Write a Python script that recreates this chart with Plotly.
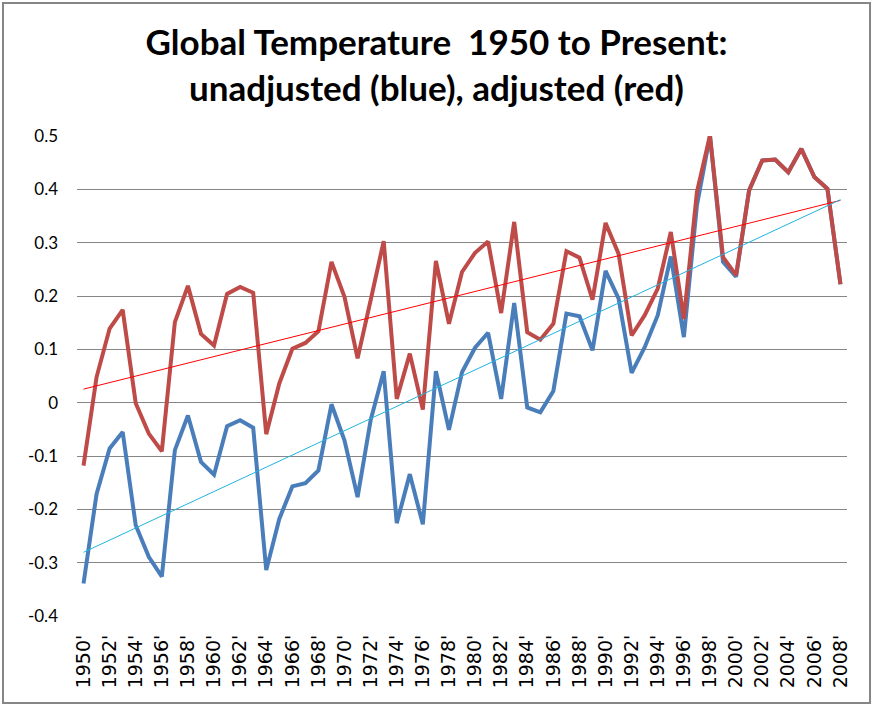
import numpy as np
import plotly.graph_objects as go

# years as category labels (Excel style with trailing apostrophe)
years = list(range(1950, 2009))
year_labels = [f"{y}'" for y in years]

# adjusted series (red)
adjusted = [
    -0.118, 0.048, 0.139, 0.174, -0.001, -0.058, -0.091, 0.151, 0.219, 0.129,
    0.107, 0.204, 0.217, 0.206, -0.059, 0.036, 0.101, 0.112, 0.134, 0.264,
    0.198, 0.083, 0.192, 0.303, 0.007, 0.092, -0.013, 0.266, 0.148, 0.245,
    0.281, 0.302, 0.168, 0.339, 0.132, 0.118, 0.148, 0.284, 0.272, 0.193,
    0.337, 0.279, 0.126, 0.164, 0.214, 0.320, 0.157, 0.395, 0.501, 0.273,
    0.239, 0.398, 0.454, 0.456, 0.432, 0.476, 0.423, 0.401, 0.222,
]

# unadjusted series (blue)
unadjusted = [
    -0.339, -0.171, -0.086, -0.055, -0.230, -0.289, -0.326, -0.089, -0.024, -0.111,
    -0.135, -0.044, -0.033, -0.047, -0.314, -0.218, -0.157, -0.151, -0.127, -0.003,
    -0.071, -0.177, -0.033, 0.059, -0.226, -0.134, -0.228, 0.059, -0.051, 0.057,
    0.103, 0.131, 0.007, 0.187, -0.009, -0.018, 0.022, 0.167, 0.162, 0.098,
    0.247, 0.195, 0.056, 0.104, 0.164, 0.274, 0.123, 0.370, 0.500, 0.264,
    0.236, 0.398, 0.454, 0.456, 0.432, 0.476, 0.423, 0.401, 0.222,
]

y_ticks = [-0.4, -0.3, -0.2, -0.1, 0, 0.1, 0.2, 0.3, 0.4, 0.5]
y_tick_text = ["-0.4", "-0.3", "-0.2", "-0.1", "0", "0.1", "0.2", "0.3", "0.4", "0.5"]

# linear trend lines, like Excel's trendline
idx = np.arange(len(years))
red_fit = np.polyval(np.polyfit(idx, adjusted, 1), idx)
blue_fit = np.polyval(np.polyfit(idx, unadjusted, 1), idx)

fig = go.Figure()

fig.add_trace(go.Scatter(x=year_labels, y=unadjusted, mode='lines',
                         line=dict(color='#4A7EBB', width=4), name='unadjusted'))
fig.add_trace(go.Scatter(x=year_labels, y=adjusted, mode='lines',
                         line=dict(color='#BE4B48', width=4), name='adjusted'))
fig.add_trace(go.Scatter(x=year_labels, y=red_fit, mode='lines',
                         line=dict(color='#FF0000', width=1), name='adjusted trend'))
fig.add_trace(go.Scatter(x=year_labels, y=blue_fit, mode='lines',
                         line=dict(color='#1FB4E0', width=1), name='unadjusted trend'))

fig.update_layout(
    width=873, height=708,
    margin=dict(l=77, r=26, t=136, b=92),
    paper_bgcolor='white', plot_bgcolor='white',
    showlegend=False,
    title=dict(
        text='Global Temperature  1950 to Present:<br>unadjusted (blue), adjusted (red)',
        x=0.5, xref='container', xanchor='center',
        y=0.922, yref='container', yanchor='top',
        font=dict(family='Lato, Open Sans, sans-serif', size=35, color='black', weight='bold'),
    ),
    shapes=[dict(type='rect', xref='paper', yref='paper',
                 x0=-0.0961, x1=1.0299, y0=-0.181, y1=1.277,
                 line=dict(color='#868686', width=2), fillcolor='rgba(0,0,0,0)')],
)

fig.update_xaxes(
    type='category', range=[-0.5, len(years) - 0.5],
    tickmode='array', tickvals=year_labels[::2], ticktext=year_labels[::2],
    tickangle=-90, showgrid=False, showline=False, zeroline=False,
    tickfont=dict(family='DejaVu Sans, Verdana, sans-serif', size=19, color='black'),
    ticklabelstandoff=14,
)
fig.update_yaxes(
    range=[-0.4, 0.5], tickmode='array', tickvals=y_ticks, ticktext=y_tick_text,
    showgrid=True, gridcolor='#868686', gridwidth=1, zeroline=False, showline=False,
    tickfont=dict(family='Lato, Open Sans, sans-serif', size=17, color='black'),
    ticklabelstandoff=18,
)

# the default page has an 8px body margin; drop it so the figure fills the window
fig.write_html("out.html", config={'displayModeBar': False},
               post_script="document.body.style.margin='0';document.body.style.overflow='hidden';")
